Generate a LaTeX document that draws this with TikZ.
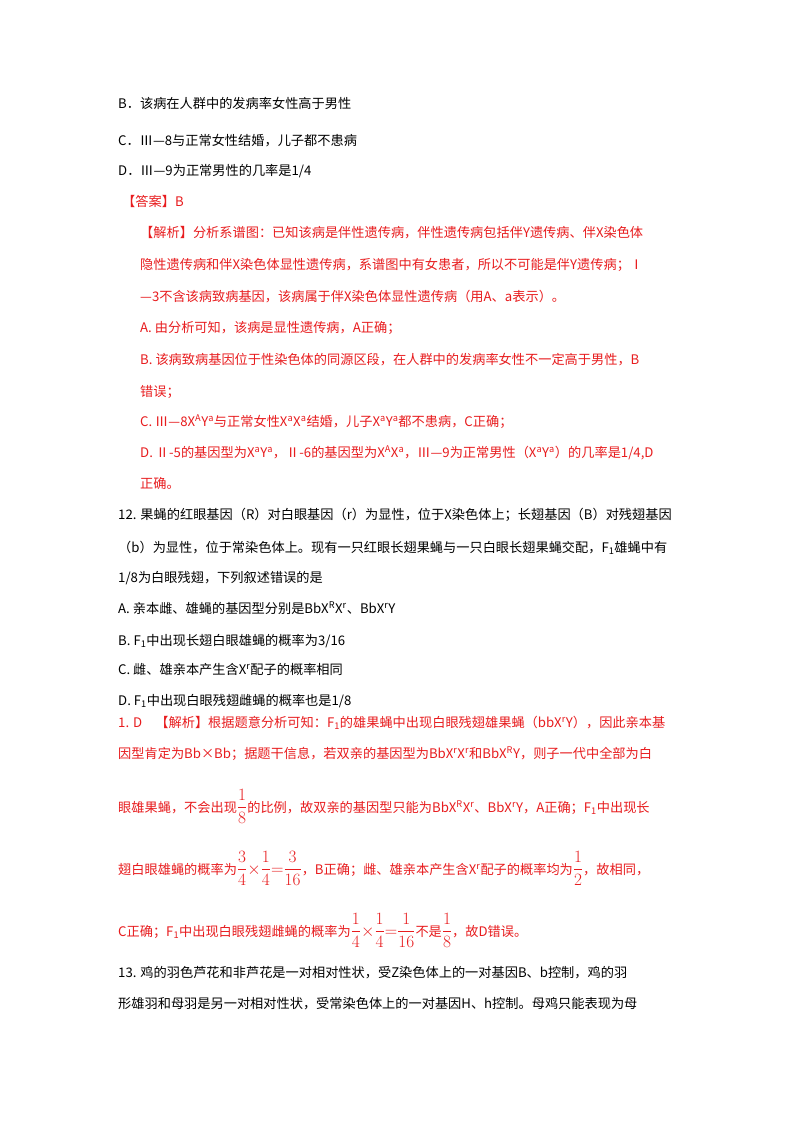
\documentclass[tikz,border=0pt]{standalone}
\usepackage{amsmath}
\usepackage{fontspec}
\setmainfont{Noto Sans CJK SC}
\definecolor{ansred}{RGB}{232,28,30}
\newcommand{\sps}[1]{\textsuperscript{#1}}
\newcommand{\sbs}[1]{\textsubscript{#1}}
\newcommand{\bigfrac}[2]{{\fontsize{17}{18}\selectfont$\displaystyle\frac{#1}{#2}$}}
\tikzset{
  txt/.style={anchor=base west, inner sep=0pt, font=\fontsize{13.2}{15}\selectfont},
  red/.style={txt, text=ansred}
}
\begin{document}
\begin{tikzpicture}[x=1pt,y=-1pt]
        \useasboundingbox[fill=white] (0,0) rectangle (800,1132);
        % options of question 11
        \node[txt] (qb) at (118,108) {B．该病在人群中的发病率女性高于男性};
        \node[txt] (qc) at (118,145) {C．Ⅲ—8与正常女性结婚，儿子都不患病};
        \node[txt] (qd) at (118,175) {D．Ⅲ—9为正常男性的几率是1/4};

        % answer
        \node[red] (ans) at (122,206) {【答案】B};
        \node[red] (e1) at (140,237) {【解析】分析系谱图：已知该病是伴性遗传病，伴性遗传病包括伴Y遗传病、伴X染色体};
        \node[red] (e2) at (140,269) {隐性遗传病和伴X染色体显性遗传病，系谱图中有女患者，所以不可能是伴Y遗传病；Ⅰ};
        \node[red] (e3) at (140,301) {—3不含该病致病基因，该病属于伴X染色体显性遗传病（用A、a表示）。};
        \node[red] (e4) at (140,332) {A. 由分析可知，该病是显性遗传病，A正确；};
        \node[red] (e5) at (140,364) {B. 该病致病基因位于性染色体的同源区段，在人群中的发病率女性不一定高于男性，B};
        \node[red] (e6) at (140,396) {错误；};
        \node[red] (e7) at (140,426) {C. Ⅲ—8X\sps{A}Y\sps{a}与正常女性X\sps{a}X\sps{a}结婚，儿子X\sps{a}Y\sps{a}都不患病，C正确；};
        \node[red] (e8) at (140,457) {D. Ⅱ-5的基因型为X\sps{a}Y\sps{a}，Ⅱ-6的基因型为X\sps{A}X\sps{a}，Ⅲ—9为正常男性（X\sps{a}Y\sps{a}）的几率是1/4,D};
        \node[red] (e9) at (140,488) {正确。};

        % question 12
        \node[txt] (p1) at (118,519) {12. 果蝇的红眼基因（R）对白眼基因（r）为显性，位于X染色体上；长翅基因（B）对残翅基因};
        \node[txt] (p2) at (118,552) {（b）为显性，位于常染色体上。现有一只红眼长翅果蝇与一只白眼长翅果蝇交配，F\sbs{1}雄蝇中有};
        \node[txt] (p3) at (118,582) {1/8为白眼残翅，下列叙述错误的是};
        \node[txt] (pa) at (118,613) {A. 亲本雌、雄蝇的基因型分别是BbX\sps{R}X\sps{r}、BbX\sps{r}Y};
        \node[txt] (pb) at (118,645) {B. F\sbs{1}中出现长翅白眼雄蝇的概率为3/16};
        \node[txt] (pc) at (118,674) {C. 雌、雄亲本产生含X\sps{r}配子的概率相同};
        \node[txt] (pd) at (118,705) {D. F\sbs{1}中出现白眼残翅雌蝇的概率也是1/8};

        % solution of question 12
        \node[red] (s1) at (118,727) {1. D\quad【解析】根据题意分析可知：F\sbs{1}的雄果蝇中出现白眼残翅雄果蝇（bbX\sps{r}Y），因此亲本基};
        \node[red] (s2) at (118,758) {因型肯定为Bb×Bb；据题干信息，若双亲的基因型为BbX\sps{r}X\sps{r}和BbX\sps{R}Y，则子一代中全部为白};
        \node[red] (s3) at (118,812) {眼雄果蝇，不会出现\bigfrac{1}{8}的比例，故双亲的基因型只能为BbX\sps{R}X\sps{r}、BbX\sps{r}Y，A正确；F\sbs{1}中出现长};
        \node[red] (s4) at (118,874) {翅白眼雄蝇的概率为\bigfrac{3}{4}{\fontsize{17}{18}\selectfont$\times$}\bigfrac{1}{4}{\fontsize{17}{18}\selectfont$=$}\bigfrac{3}{16}，B正确；雌、雄亲本产生含X\sps{r}配子的概率均为\bigfrac{1}{2}，故相同，};
        \node[red] (s5) at (118,936) {C正确；F\sbs{1}中出现白眼残翅雌蝇的概率为\bigfrac{1}{4}{\fontsize{17}{18}\selectfont$\times$}\bigfrac{1}{4}{\fontsize{17}{18}\selectfont$=$}\bigfrac{1}{16}不是\bigfrac{1}{8}，故D错误。};

        % question 13
        \node[txt] (r1) at (118,977) {13. 鸡的羽色芦花和非芦花是一对相对性状，受Z染色体上的一对基因B、b控制，鸡的羽};
        \node[txt] (r2) at (118,1008) {形雄羽和母羽是另一对相对性状，受常染色体上的一对基因H、h控制。母鸡只能表现为母};
\end{tikzpicture}
\end{document}
